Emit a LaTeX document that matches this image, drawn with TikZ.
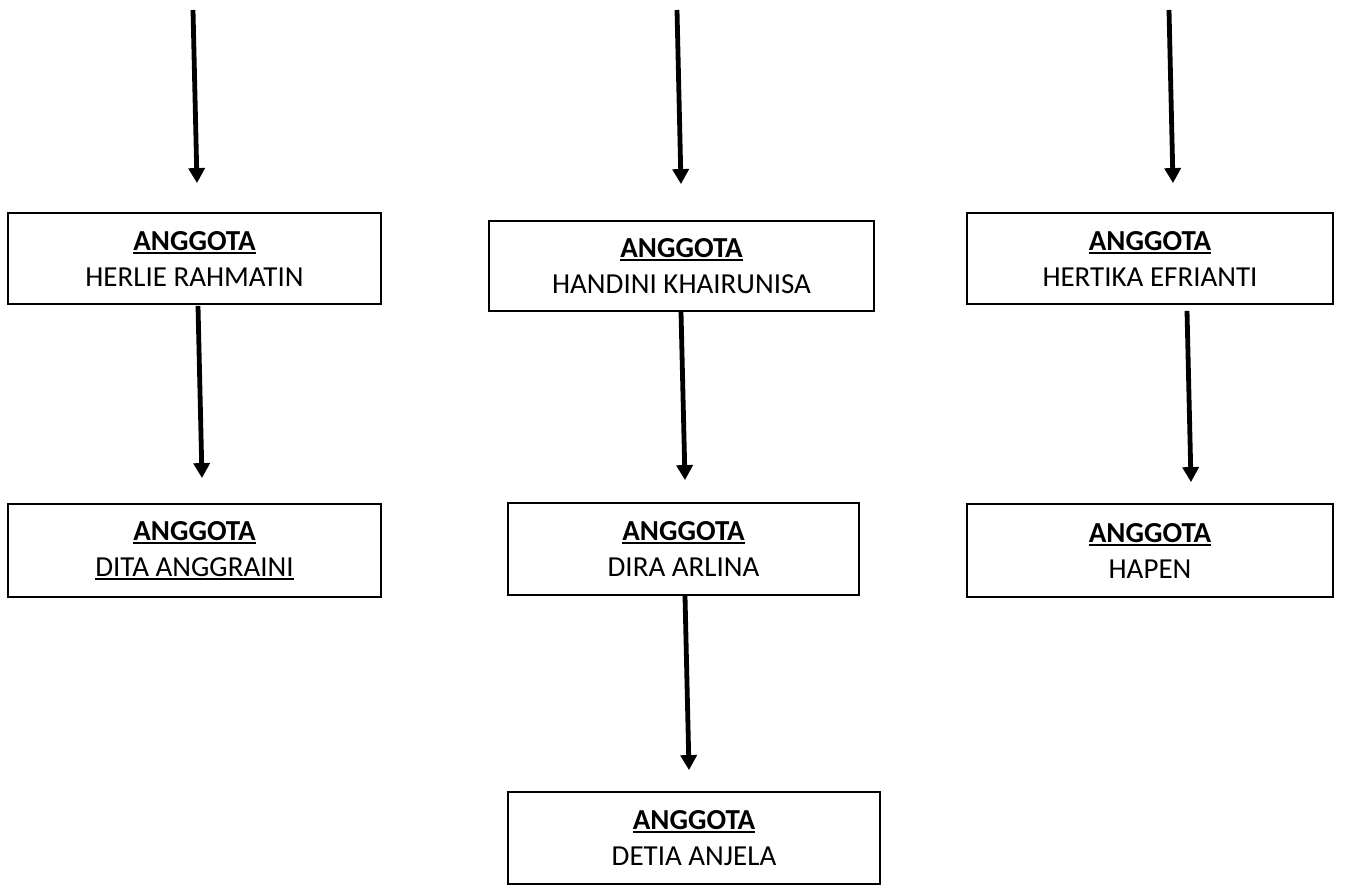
\documentclass[tikz,border=0pt]{standalone}
\usepackage{fontspec}
\setmainfont{Carlito}
\usetikzlibrary{arrows.meta,calc}
\newcommand\ulbox[1]{\leavevmode\setbox0\hbox{#1}\rlap{\rule[-3.5pt]{\wd0}{1.8pt}}\box0}
\tikzset{
  box/.style={draw=black, line width=1.8pt, fill=white, align=center, inner sep=0pt,
    font=\fontsize{29}{36}\selectfont},
  arr/.style={line width=4.8pt, -{Triangle[width=16pt,length=15pt]}},
}
\begin{document}
\begin{tikzpicture}[x=1pt,y=-1pt]
\useasboundingbox (0,0) rectangle (1346,885);
\node[box, minimum width=373pt, minimum height=91pt] (b1) at (194.5,258.5) {\ulbox{\textbf{ANGGOTA}}\\HERLIE RAHMATIN};
\node[box, minimum width=385pt, minimum height=90pt] (b2) at (681.5,266) {\ulbox{\textbf{ANGGOTA}}\\HANDINI KHAIRUNISA};
\node[box, minimum width=366pt, minimum height=91pt] (b3) at (1150,258.5) {\ulbox{\textbf{ANGGOTA}}\\HERTIKA EFRIANTI};
\node[box, minimum width=373pt, minimum height=93pt] (b4) at (194.5,550.5) {\ulbox{\textbf{ANGGOTA}}\\\ulbox{DITA ANGGRAINI}};
\node[box, minimum width=351pt, minimum height=92pt] (b5) at (683.5,549) {\ulbox{\textbf{ANGGOTA}}\\DIRA ARLINA};
\node[box, minimum width=366pt, minimum height=93pt] (b6) at (1150,550.5) {\ulbox{\textbf{ANGGOTA}}\\HAPEN};
\node[box, minimum width=372pt, minimum height=92pt] (b7) at (694,838) {\ulbox{\textbf{ANGGOTA}}\\DETIA ANJELA};
\coordinate (s1) at (193,10);
\coordinate (s2) at (677,10);
\coordinate (s3) at (1169,10);
\draw[arr] (s1) -- ($(b1.north)+(2.5,-29)$);
\draw[arr] (s2) -- ($(b2.north)+(-0.5,-36)$);
\draw[arr] (s3) -- ($(b3.north)+(23,-29)$);
\draw[arr] ($(b1.south)+(3.5,1)$) -- ($(b4.north)+(7.5,-25)$);
\draw[arr] ($(b2.south)+(-0.5,0)$) -- ($(b5.north)+(1.5,-22)$);
\draw[arr] ($(b3.south)+(37,6)$) -- ($(b6.north)+(41,-21)$);
\draw[arr] ($(b5.south)+(1.5,0)$) -- ($(b7.north)+(-5,-21)$);
\end{tikzpicture}
\end{document}
